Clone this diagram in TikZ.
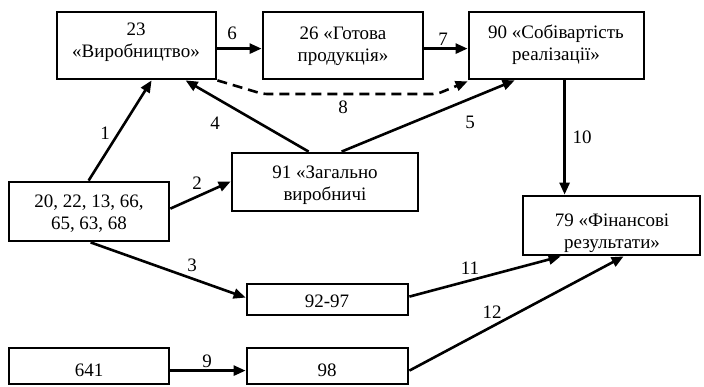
\documentclass[tikz,border=0pt]{standalone}
\usepackage{fontspec}
\setmainfont{Liberation Serif}
\usetikzlibrary{arrows.meta,calc}
\begin{document}
\begin{tikzpicture}[x=1pt,y=-1pt,
 box/.style={draw, line width=2.8pt, inner sep=0pt},
 txt/.style={align=center, inner sep=0pt, font=\fontsize{19}{22}\selectfont},
 arr/.style={line width=2.6pt, -{Triangle[length=12pt,width=10pt]}},
 dasharr/.style={arr, dash pattern=on 10pt off 6pt},
 lbl/.style={inner sep=0pt, font=\fontsize{19}{22}\selectfont}]
\useasboundingbox[fill=white] (0,0) rectangle (704,387);
% boxes
\node[box, minimum width=159pt, minimum height=67pt] (b23) at (136.5,45.5) {};
\node[box, minimum width=160pt, minimum height=67pt] (b26) at (343,45.5) {};
\node[box, minimum width=175pt, minimum height=67pt] (b90) at (556.5,45.5) {};
\node[box, minimum width=186pt, minimum height=58pt] (b91) at (325,182) {};
\node[box, minimum width=160pt, minimum height=59pt] (b20) at (89,211.5) {};
\node[box, minimum width=177pt, minimum height=59pt] (b79) at (611.5,225.5) {};
\node[box, minimum width=161pt, minimum height=31pt] (b92) at (327.5,299.5) {};
\node[box, minimum width=160pt, minimum height=36pt] (b641) at (89,366) {};
\node[box, minimum width=161pt, minimum height=36pt] (b98) at (327.5,366) {};
% texts
\node[txt] (t23) at (136,42) {23\\«Виробництво»};
\node[txt] (t26) at (343,46) {26 «Готова\\продукція»};
\node[txt] (t90) at (556,45) {90 «Собівартість\\реалізації»};
\node[txt] (t91) at (325,185) {91 «Загально\\виробничі};
\node[txt] (t20) at (89,214) {20, 22, 13, 66,\\65, 63, 68};
\node[txt] (t79) at (612,233) {79 «Фінансові\\результати»};
\node[txt] (t92) at (327,301) {92-97};
\node[txt] (t641) at (89,370) {641};
\node[txt] (t98) at (327,370) {98};
% arrows
\draw[arr] ($(b20.north west)+(81,0)$) -- ($(b23.south west)+(96,0)$);
\draw[arr] ($(b20.north east)+(0,28)$) -- ($(b91.north west)+(0,30)$);
\draw[arr] ($(b20.south west)+(83,0)$) -- ($(b92.north west)+(0,15)$);
\draw[arr] ($(b91.north west)+(78,0)$) -- ($(b23.south west)+(130,0)$);
\draw[arr] ($(b91.north west)+(111,0)$) -- ($(b90.south west)+(47,0)$);
\draw[arr] ($(b23.north east)+(0,38)$) -- ($(b26.north west)+(0,38)$);
\draw[arr] ($(b26.north east)+(0,38)$) -- ($(b90.north west)+(0,38)$);
\draw[dasharr, rounded corners=4pt] (b23.south east) -- (263,94) -- (437,94) -- ($(b90.south west)+(0,1)$);
\draw[arr] ($(b641.north east)+(0,24)$) -- ($(b98.north west)+(0,24)$);
\draw[arr] ($(b90.south west)+(97,0)$) -- ($(b79.north west)+(43,0)$);
\draw[arr] ($(b92.north east)+(0,14)$) -- ($(b79.south west)+(39,0)$);
\draw[arr] ($(b98.north east)+(0,24)$) -- ($(b79.south west)+(102,0)$);
% labels
\node[lbl] (l1) at (105,133) {1};
\node[lbl] (l2) at (197,183) {2};
\node[lbl] (l3) at (192,265) {3};
\node[lbl] (l4) at (215,123) {4};
\node[lbl] (l5) at (470,122) {5};
\node[lbl] (l6) at (232,33) {6};
\node[lbl] (l7) at (443,39) {7};
\node[lbl] (l8) at (343,107) {8};
\node[lbl] (l9) at (207,361) {9};
\node[lbl] (l10) at (582,137) {10};
\node[lbl] (l11) at (470,268) {11};
\node[lbl] (l12) at (492,312) {12};
\end{tikzpicture}
\end{document}
